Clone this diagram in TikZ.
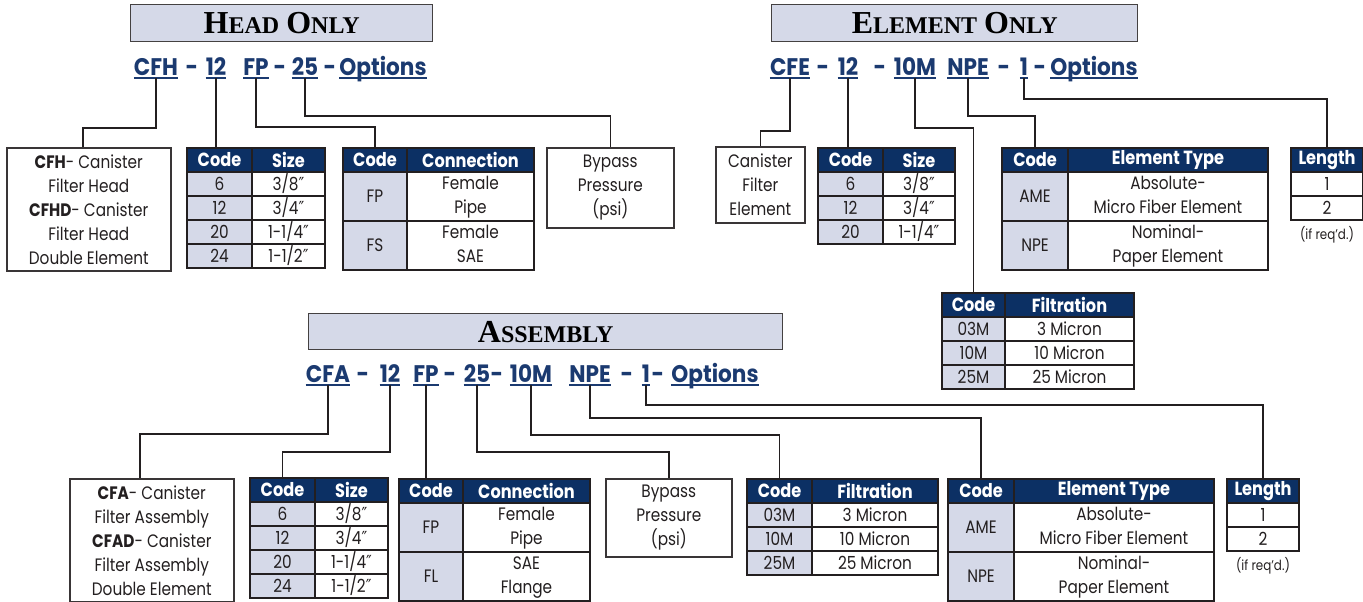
\documentclass[tikz,border=0pt]{standalone}
\usepackage{fontspec}
\setmainfont{Poppins}[FakeStretch=0.85]
\newfontfamily\codefont{Poppins}[FakeStretch=0.9]
\newfontfamily\titlefont{Liberation Serif}
\newfontfamily\symfont{DejaVu Sans}[FakeStretch=0.85]
\usetikzlibrary{matrix,positioning}

\definecolor{ink}{HTML}{231F20}
\definecolor{navy}{HTML}{0C3064}
\definecolor{codeblue}{HTML}{1B3A70}
\definecolor{lav}{HTML}{D5D9E8}

\newcommand\bodysize{\fontsize{18}{24}\selectfont}
\newcommand\hdsize{\bfseries\fontsize{19}{24}\selectfont}
\newcommand\smallcap[2]{{\fontsize{32}{32}\selectfont #1}{\fontsize{24}{24}\selectfont #2}}
\newcommand\twolines[2]{\begin{tabular}{@{}c@{}}#1\\#2\end{tabular}}
\newcommand\inch{{\symfont ″}}

\tikzset{
  titlebox/.style={draw=ink!85, line width=1.4pt, fill=lav, inner sep=0pt, anchor=north west, font=\titlefont\bfseries, text=black},
  code/.style={font={\codefont\bfseries\fontsize{24}{24}\selectfont}, text=codeblue, inner sep=0pt, text height=17pt, text depth=2.5pt, anchor=base},
  ul/.style={append after command={(\tikzlastnode.south west) edge[draw=codeblue, line width=2pt] (\tikzlastnode.south east)}},
  conn/.style={draw=ink, line width=1.5pt},
  txtbox/.style={draw=ink!90, line width=1.6pt, inner sep=0pt, anchor=north west, align=center, font=\bodysize, text=ink},
  note/.style={inner sep=0pt, font=\fontsize{14}{14}\selectfont, text=ink},
  tbl/.style={matrix of nodes, inner sep=0pt, anchor=north west,
    column sep=-1.6pt, row sep=-1.6pt,
    nodes={draw=ink, line width=1.6pt, fill=white, inner sep=0pt, anchor=center,
      minimum height=24pt, font=\bodysize, text=ink},
    row 1/.style={nodes={fill=navy, text=white, font=\hdsize}}},
  tbltwo/.style 2 args={tbl,
    column 1/.style={nodes={minimum width=#1, fill=lav}},
    column 2/.style={nodes={minimum width=#2}}},
  tallrows/.style={row 2/.style={nodes={minimum height=#1}}, row 3/.style={nodes={minimum height=#1}}},
}

\begin{document}
\begin{tikzpicture}[x=1pt,y=-1pt]
  \useasboundingbox (0,0) rectangle (1363,602);

  % head only
  \node[titlebox, minimum width=302pt, minimum height=37pt] (headttl) at (130,4) {\smallcap{H}{EAD}\hspace{7pt}\smallcap{O}{NLY}};

  \node[code,ul] (hcfh) at (156,75) {CFH};
  \node[code] (hd1) at (192,75) {-};
  \node[code,ul] (h12) at (216,75) {12};
  \node[code,ul] (hfp) at (256,75) {FP};
  \node[code] (hd2) at (280,75) {-};
  \node[code,ul] (h25) at (305,75) {25};
  \node[code] (hd3) at (330,75) {-};
  \node[code,ul] (hopt) at (383,75) {Options};

  \node[txtbox, minimum width=164pt, minimum height=123pt] (hbox) at (6,147)
    {\textbf{CFH}- Canister\\Filter Head\\\textbf{CFHD}- Canister\\Filter Head\\Double Element};
  \matrix[tbltwo={65pt}{73pt}] (hsize) at (186,147) {
    Code & Size \\
    6 & 3/8\inch \\
    12 & 3/4\inch \\
    20 & 1-1/4\inch \\
    24 & 1-1/2\inch \\
  };
  \matrix[tbltwo={64pt}{127pt}, tallrows=49pt] (hconn) at (342,147) {
    Code & Connection \\
    FP & \twolines{Female}{Pipe} \\
    FS & \twolines{Female}{SAE} \\
  };
  \node[txtbox, minimum width=127pt, minimum height=80pt] (hbyp) at (546,147) {Bypass\\Pressure\\(psi)};

  \draw[conn] (hcfh.south) -- ++(0,50.5) -| ([xshift=77pt]hbox.north west);
  \draw[conn] (h12.south) -- (h12.south |- hsize-1-1.north);
  \draw[conn] (hfp.south) -- ++(0,49.5) -| (hconn-1-1.north);
  \draw[conn] (h25.south) -- ++(0,38.5) -| (hbyp.north);

  % element only
  \node[titlebox, minimum width=366pt, minimum height=37pt] (elemttl) at (771,4) {\smallcap{E}{LEMENT}\hspace{7pt}\smallcap{O}{NLY}};

  \node[code,ul] (ecfe) at (790,75) {CFE};
  \node[code] (ed1) at (823,75) {-};
  \node[code,ul] (e12) at (848,75) {12};
  \node[code] (ed2) at (880,75) {-};
  \node[code,ul] (e10m) at (915,75) {10M};
  \node[code,ul] (enpe) at (968,75) {NPE};
  \node[code] (ed3) at (1004,75) {-};
  \node[code,ul] (e1) at (1024,75) {1};
  \node[code] (ed4) at (1040,75) {-};
  \node[code,ul] (eopt) at (1094,75) {Options};

  \node[txtbox, minimum width=89pt, minimum height=76pt] (ebox) at (715,146) {Canister\\Filter\\Element};
  \matrix[tbltwo={65pt}{72pt}] (esize) at (817,147) {
    Code & Size \\
    6 & 3/8\inch \\
    12 & 3/4\inch \\
    20 & 1-1/4\inch \\
  };
  \matrix[tbltwo={66pt}{200pt}, tallrows=49pt] (etype) at (1001,147) {
    Code & Element Type \\
    AME & \twolines{Absolute-}{Micro Fiber Element} \\
    NPE & \twolines{Nominal-}{Paper Element} \\
  };
  \matrix[tbl, column 1/.style={nodes={minimum width=72pt}}] (elen) at (1290,147) {
    Length \\
    1 \\
    2 \\
  };
  \node[note, below=5pt of elen] (elennote) {(if req’d.)};
  \matrix[tbltwo={63pt}{129pt}] (efilt) at (941,292) {
    Code & Filtration \\
    03M & 3 Micron \\
    10M & 10 Micron \\
    25M & 25 Micron \\
  };

  \draw[conn] (ecfe.south) -- ++(0,53.5) -| (ebox.north);
  \draw[conn] (e12.south) -- (e12.south |- esize-1-1.north);
  \draw[conn] (e10m.south) -- ++(0,50.5) -| (efilt-1-1.north);
  \draw[conn] (enpe.south) -- ++(0,38.5) -| (etype-1-1.north);
  \draw[conn] (e1.south) -- ++(0,21.5) -| (elen-1-1.north);

  % assembly
  \node[titlebox, minimum width=474pt, minimum height=36pt] (assyttl) at (308,313) {\smallcap{A}{SSEMBLY}};

  \node[code,ul] (acfa) at (328,382) {CFA};
  \node[code] (ad1) at (363,382) {-};
  \node[code,ul] (a12) at (390,382) {12};
  \node[code,ul] (afp) at (426,382) {FP};
  \node[code] (ad2) at (450,382) {-};
  \node[code,ul] (a25) at (477,382) {25};
  \node[code] (ad3) at (497,382) {-};
  \node[code,ul] (a10m) at (531,382) {10M};
  \node[code,ul] (anpe) at (590,382) {NPE};
  \node[code] (ad4) at (627,382) {-};
  \node[code,ul] (a1) at (646,382) {1};
  \node[code] (ad5) at (658,382) {-};
  \node[code,ul] (aopt) at (715,382) {Options};

  \node[txtbox, minimum width=164pt, minimum height=123pt] (abox) at (69,478)
    {\textbf{CFA}- Canister\\Filter Assembly\\\textbf{CFAD}- Canister\\Filter Assembly\\Double Element};
  \matrix[tbltwo={65pt}{73pt}] (asize) at (249,477) {
    Code & Size \\
    6 & 3/8\inch \\
    12 & 3/4\inch \\
    20 & 1-1/4\inch \\
    24 & 1-1/2\inch \\
  };
  \matrix[tbltwo={64pt}{127pt}, tallrows=49pt] (aconn) at (398,478) {
    Code & Connection \\
    FP & \twolines{Female}{Pipe} \\
    FL & \twolines{SAE}{Flange} \\
  };
  \node[txtbox, minimum width=126pt, minimum height=78pt] (abyp) at (605,478) {Bypass\\Pressure\\(psi)};
  \matrix[tbltwo={65pt}{126pt}] (afilt) at (746,478) {
    Code & Filtration \\
    03M & 3 Micron \\
    10M & 10 Micron \\
    25M & 25 Micron \\
  };
  \matrix[tbltwo={66pt}{200pt}, tallrows=49pt] (atype) at (947,478) {
    Code & Element Type \\
    AME & \twolines{Absolute-}{Micro Fiber Element} \\
    NPE & \twolines{Nominal-}{Paper Element} \\
  };
  \matrix[tbl, column 1/.style={nodes={minimum width=72pt}}] (alen) at (1226,478) {
    Length \\
    1 \\
    2 \\
  };
  \node[note, below=5pt of alen] (alennote) {(if req’d.)};

  \draw[conn] (acfa.south) -- ++(0,49.5) -| ([xshift=71pt]abox.north west);
  \draw[conn] (a12.south) -- ++(0,67.5) -| (asize-1-1.north);
  \draw[conn] (afp.south) -- (afp.south |- aconn-1-1.north);
  \draw[conn] (a25.south) -- ++(0,67.5) -| (abyp.north);
  \draw[conn] (a10m.south) -- ++(0,50.5) -| (afilt-1-1.north);
  \draw[conn] (anpe.south) -- ++(0,33.5) -| (atype-1-1.north);
  \draw[conn] (a1.south) -- ++(0,20.5) -| (alen-1-1.north);
\end{tikzpicture}
\end{document}
